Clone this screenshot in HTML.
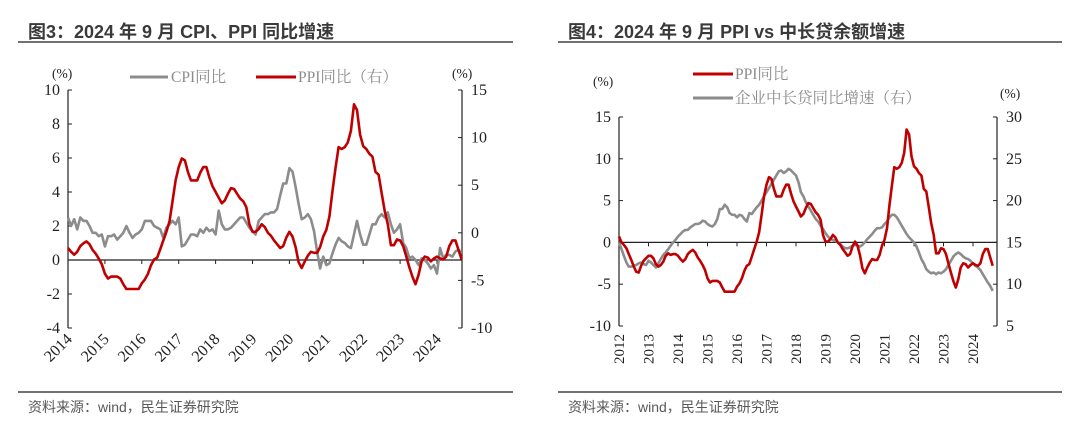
<!DOCTYPE html>
<html><head><meta charset="utf-8">
<style>
html,body{margin:0;padding:0;background:#fff;}
body{width:1080px;height:432px;overflow:hidden;}
svg text{font-family:"Liberation Serif","Noto Serif CJK SC",serif;}
</style></head>
<body>
<svg id="svg" width="1080" height="432" xmlns="http://www.w3.org/2000/svg">
<text x="28" y="38" font-size="18" font-weight="bold" fill="#3a3a3a" style="font-family:'Liberation Sans','Noto Sans CJK SC',sans-serif">图3：2024 年 9 月 CPI、PPI 同比增速</text>
<line x1="18" y1="42" x2="513" y2="42" stroke="#444" stroke-width="1.5"/>
<text x="568" y="38" font-size="18" font-weight="bold" fill="#3a3a3a" style="font-family:'Liberation Sans','Noto Sans CJK SC',sans-serif">图4：2024 年 9 月 PPI vs 中长贷余额增速</text>
<line x1="558" y1="42" x2="1062" y2="42" stroke="#444" stroke-width="1.5"/>
<line x1="18" y1="392" x2="513" y2="392" stroke="#444" stroke-width="1.5"/>
<line x1="558" y1="392" x2="1062" y2="392" stroke="#444" stroke-width="1.5"/>
<text x="28" y="412" font-size="14" fill="#595959" style="font-family:'Liberation Sans','Noto Sans CJK SC',sans-serif">资料来源：wind，民生证券研究院</text>
<text x="568" y="412" font-size="14" fill="#595959" style="font-family:'Liberation Sans','Noto Sans CJK SC',sans-serif">资料来源：wind，民生证券研究院</text>
<g id="c1"></g>
<g id="c2"></g>
<text x="52" y="78" font-size="13.5" fill="#222">(%)</text>
<text x="452" y="78" font-size="13.5" fill="#222">(%)</text>
<line x1="130" y1="77" x2="168" y2="77" stroke="#8c8c8c" stroke-width="3"/>
<text x="171" y="82" font-size="15.5" fill="#8c8c8c">CPI同比</text>
<line x1="256" y1="77" x2="296" y2="77" stroke="#c00000" stroke-width="3"/>
<text x="298" y="82" font-size="15.5" fill="#8c8c8c">PPI同比（右）</text>
<text x="593" y="86" font-size="13.5" fill="#222">(%)</text>
<text x="1000" y="98" font-size="13.5" fill="#222">(%)</text>
<line x1="693" y1="74" x2="733" y2="74" stroke="#c00000" stroke-width="3"/>
<text x="735" y="79" font-size="15.5" fill="#8c8c8c">PPI同比</text>
<line x1="693" y1="98" x2="733" y2="98" stroke="#8c8c8c" stroke-width="3"/>
<text x="735" y="103" font-size="15.5" fill="#8c8c8c">企业中长贷同比增速（右）</text>
</svg>
<script>
const cpiYears=[2014,2015,2016,2017,2018,2019,2020,2021,2022,2023,2024];
const loanYears=[2012,2013,2014,2015,2016,2017,2018,2019,2020,2021,2022,2023,2024];
const c1LeftTicks=[10,8,6,4,2,0,-2,-4];
const c1RightTicks=[15,10,5,0,-5,-10];
const c2LeftTicks=[15,10,5,0,-5,-10];
const c2RightTicks=[30,25,20,15,10,5];
// PPI yoy, monthly from 2012-01 to 2024-09
const ppi=[0.7,0.0,-0.3,-0.7,-1.4,-2.1,-2.9,-3.5,-3.6,-2.8,-2.2,-1.9,
-1.6,-1.6,-1.9,-2.6,-2.9,-2.7,-2.3,-1.6,-1.3,-1.5,-1.4,-1.4,
-1.6,-2.0,-2.3,-2.0,-1.4,-1.1,-0.9,-1.2,-1.8,-2.2,-2.7,-3.3,
-4.3,-4.8,-4.6,-4.6,-4.6,-4.8,-5.4,-5.9,-5.9,-5.9,-5.9,-5.9,
-5.3,-4.9,-4.3,-3.4,-2.8,-2.6,-1.7,-0.8,0.1,1.2,3.3,5.5,
6.9,7.8,7.6,6.4,5.5,5.5,5.5,6.3,6.9,6.9,5.8,4.9,
4.3,3.7,3.1,3.4,4.1,4.7,4.6,4.1,3.6,3.3,2.7,0.9,
0.1,0.1,0.4,0.9,0.6,0.0,-0.3,-0.8,-1.2,-1.6,-1.4,-0.5,
0.1,-0.4,-1.5,-3.1,-3.7,-3.0,-2.4,-2.0,-2.1,-2.1,-1.5,-0.4,
0.3,1.7,4.4,6.8,9.0,8.8,9.0,9.5,10.7,13.5,12.9,10.3,
9.1,8.8,8.3,8.0,6.4,6.1,4.2,2.3,0.9,-1.3,-1.3,-0.7,
-0.8,-1.4,-2.5,-3.6,-4.6,-5.4,-4.4,-3.0,-2.5,-2.6,-3.0,-2.7,
-2.5,-2.7,-2.8,-2.5,-1.4,-0.8,-0.8,-1.8,-2.8];
// CPI yoy, monthly from 2014-01 to 2024-09
const cpi=[2.5,2.0,2.4,1.8,2.5,2.3,2.3,2.0,1.6,1.6,1.4,1.5,
0.8,1.4,1.4,1.5,1.2,1.4,1.6,2.0,1.6,1.3,1.5,1.6,
1.8,2.3,2.3,2.3,2.0,1.9,1.8,1.3,1.9,2.1,2.3,2.1,
2.5,0.8,0.9,1.2,1.5,1.5,1.4,1.8,1.6,1.9,1.7,1.8,
1.5,2.9,2.1,1.8,1.8,1.9,2.1,2.3,2.5,2.5,2.2,1.9,
1.7,1.5,2.3,2.5,2.7,2.7,2.8,2.8,3.0,3.8,4.5,4.5,
5.4,5.2,4.3,3.3,2.4,2.5,2.7,2.4,1.7,0.5,-0.5,0.2,
-0.3,-0.2,0.4,0.9,1.3,1.1,1.0,0.8,0.7,1.5,2.3,1.5,
0.9,0.9,1.5,2.1,2.1,2.5,2.7,2.5,2.8,2.1,1.6,1.8,
2.1,1.0,0.7,0.1,0.2,0.0,-0.3,0.1,0.0,-0.2,-0.5,-0.3,
-0.8,0.7,0.1,0.3,0.3,0.2,0.5,0.6,0.4];
// Corporate mid/long-term loan yoy, monthly from 2012-01 to 2024-09
const loan=[15.0,14.2,13.4,12.6,12.1,12.1,12.2,12.3,12.5,12.6,12.4,12.3,
12.8,12.6,12.3,12.0,12.5,13.0,13.5,13.8,14.2,14.6,15.0,15.3,
15.7,16.0,16.3,16.5,16.5,16.8,17.0,17.2,17.2,17.3,17.6,17.5,
17.2,17.0,16.9,17.2,17.8,19.0,19.0,19.5,19.2,18.5,18.3,18.3,
18.0,18.3,18.2,17.8,17.5,18.5,18.4,18.8,19.2,19.5,20.0,20.5,
21.0,21.5,22.0,22.5,23.0,23.5,23.6,23.3,23.5,23.8,23.6,23.3,
23.0,22.2,21.0,20.5,19.8,19.3,18.8,18.3,17.8,17.5,17.0,16.6,
16.1,15.7,15.4,15.3,15.2,15.0,14.8,14.5,14.3,14.3,14.4,14.6,
14.8,14.6,14.5,14.7,15.0,15.4,15.7,16.0,16.4,16.7,16.7,16.8,
17.2,17.5,18.0,18.3,18.3,18.0,17.5,17.0,16.5,16.0,15.6,15.3,
15.0,14.5,13.8,13.0,12.5,11.8,11.5,11.3,11.4,11.2,11.4,11.3,
11.5,11.8,12.3,12.8,13.3,13.6,13.8,13.6,13.3,13.1,13.0,12.8,
12.5,12.2,12.0,11.7,11.2,10.7,10.2,9.8,9.2];

const NS='http://www.w3.org/2000/svg';
function mk(parent,tag,attrs){const e=document.createElementNS(NS,tag);for(const k in attrs)e.setAttribute(k,attrs[k]);parent.appendChild(e);return e;}
function lin(d0,d1,r0,r1){return v=>r0+(v-d0)*(r1-r0)/(d1-d0);}

function drawChart(g,o){
  const x=lin(o.x0,o.x1,o.px0,o.px1);
  const yl=lin(o.l0,o.l1,o.py0,o.py1);
  const yr=lin(o.r0,o.r1,o.py0,o.py1);
  const la=mk(g,'line',{x1:o.px0,y1:o.py1,x2:o.px0,y2:o.py0,stroke:'#222','stroke-width':1.2});
  
  
  o.lt.forEach(v=>{
    const tk=mk(g,'line',{x1:o.px0,x2:o.px0+4,y1:yl(v),y2:yl(v),stroke:'#222'});
    
    
    const t=mk(g,'text',{x:o.px0-8,y:yl(v)+5,'text-anchor':'end','font-size':16,fill:'#222'});
    t.textContent=v;
    
    
  });
  const ra=mk(g,'line',{x1:o.rx,y1:o.py1,x2:o.rx,y2:o.py0,stroke:'#222','stroke-width':1.2});
  
  
  o.rt.forEach(v=>{
    const tk=mk(g,'line',{x1:o.rx-4,x2:o.rx,y1:yr(v),y2:yr(v),stroke:'#222'});
    
    
    const t=mk(g,'text',{x:o.rx+9,y:yr(v)+5,'text-anchor':'start','font-size':16,fill:'#222'});
    t.textContent=v;
    
    
  });
  const z=mk(g,'line',{x1:o.px0,x2:o.rx,y1:yl(0),y2:yl(0),stroke:'#222','stroke-width':1.2});
  
  
  o.years.forEach(yv=>{
    const xx=x(yv);
    const tk=mk(g,'line',{x1:xx,x2:xx,y1:yl(0),y2:yl(0)+4,stroke:'#222'});
    
    
    const t=mk(g,'text',{x:0,y:0,'font-size':o.xfs,fill:'#222','text-anchor':'end',transform:o.rot(xx)});
    t.textContent=yv;
    
    
  });
  o.series.forEach(s=>{
    const ys=s.axis==='l'?yl:yr;
    const pts=s.data.map((v,i)=>x(s.start+i/12).toFixed(1)+','+ys(v).toFixed(1)).join(' ');
    const p=mk(g,'polyline',{points:pts,fill:'none',stroke:s.color,'stroke-width':2.6,'stroke-linejoin':'round'});
    
    
  });
}

drawChart(document.getElementById('c1'),{x0:2014,x1:2024,px0:68,px1:437,rx:462,py0:90,py1:328,l0:10,l1:-4,r0:15,r1:-10,
  lt:c1LeftTicks,rt:c1RightTicks,years:cpiYears,xfs:16,
  rot:xx=>`translate(${xx+5},${340}) rotate(-45)`,
  series:[{data:cpi,start:2014,axis:'l',color:'#8c8c8c',name:'cpi-line'},
          {data:ppi.slice(24),start:2014,axis:'r',color:'#c00000',name:'ppi-line'}]});
drawChart(document.getElementById('c2'),{x0:2012,x1:2024,px0:619,px1:973,rx:997,py0:117,py1:326,l0:15,l1:-10,r0:30,r1:5,
  lt:c2LeftTicks,rt:c2RightTicks,years:loanYears,xfs:15,
  rot:xx=>`translate(${xx+5},${334}) rotate(-90)`,
  series:[{data:loan,start:2012,axis:'r',color:'#8c8c8c',name:'loan-growth-line'},
          {data:ppi,start:2012,axis:'l',color:'#c00000',name:'ppi-line'}]});
</script>
</body></html>
